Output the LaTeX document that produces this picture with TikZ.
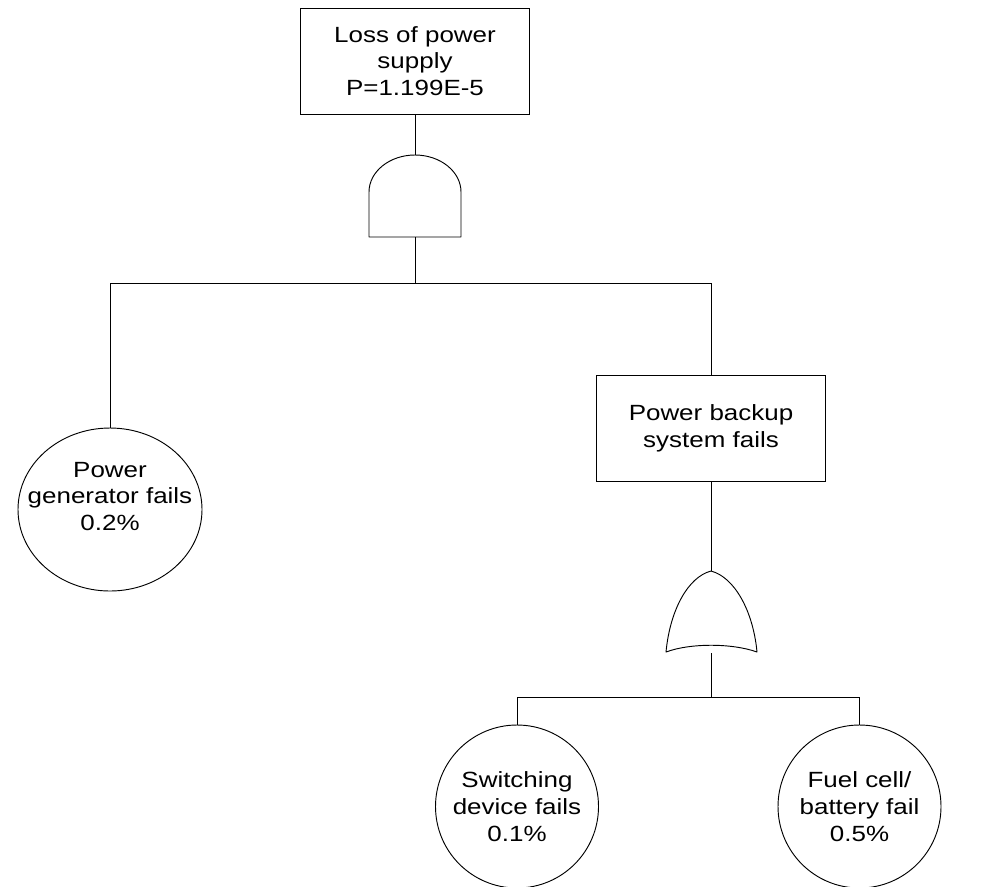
\documentclass[tikz,border=0pt]{standalone}
\usepackage{fontspec}
\setmainfont{Liberation Sans}[FakeStretch=1.18]
\usetikzlibrary{shapes.geometric}
\begin{document}
\begin{tikzpicture}[x=0.75pt,y=-0.75pt,line width=0.7pt,
  txt/.style={align=center,font=\fontsize{16.5}{20}\selectfont},
  eventbox/.style={draw,rectangle,minimum width=171.75pt,minimum height=79.5pt,inner sep=0pt,txt},
  basicevent/.style={draw,ellipse,inner sep=0pt,minimum width=#1,minimum height=122.25pt},
  gate/.style={draw,line join=round}
]
\useasboundingbox (0,0) rectangle (1005,886);
\clip (0,0) rectangle (1005,886);

% events
\node[eventbox] (top) at (415,61) {Loss of power\\supply\\P=1.199E-5};
\node[eventbox] (backup) at (711,428) {Power backup\\system fails};
\node[basicevent=138pt,label={[txt,yshift=9.75pt]center:{Power\\generator fails\\0.2\%}}] (gen) at (110,509.5) {};
\node[basicevent=122.25pt,label={[txt]center:{Switching\\device fails\\0.1\%}}] (switch) at (517,806.5) {};
\node[basicevent=122.25pt,label={[txt]center:{Fuel cell/\\battery fail\\0.5\%}}] (fuel) at (859.5,806.5) {};

% AND gate
\coordinate (andin) at (415,155);
\coordinate (andout) at (415,237);
\draw[gate] (369,237) -- (369,192)
  .. controls (369,171.6) and (389.6,155) .. (andin)
  .. controls (440.4,155) and (461,171.6) .. (461,192) -- (461,237) -- cycle;

% OR gate
\coordinate (orin) at (711,571);
\coordinate (orout) at (711,653);
\draw[gate] (666,652)
  .. controls (670,610) and (688,577) .. (orin)
  .. controls (734,577) and (753,610) .. (757,652)
  .. controls (732,643) and (690,643) .. (666,652) -- cycle;

% connectors
\coordinate (andbus) at (415,283);
\coordinate (orbus) at (711,697);
\draw (top.south) -- (andin);
\draw (andout) -- (andbus) -| (gen.north);
\draw (andbus) -| (backup.north);
\draw (backup.south) -- (orin);
\draw (orout) -- (orbus) -| (switch.north);
\draw (orbus) -| (fuel.north);
\end{tikzpicture}
\end{document}
